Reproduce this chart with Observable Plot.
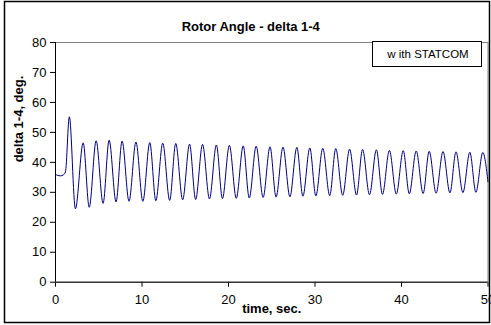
<!DOCTYPE html>
<html><head><meta charset="utf-8">
<script src="https://cdn.jsdelivr.net/npm/d3@7"></script>
<script src="https://cdn.jsdelivr.net/npm/@observablehq/plot@0.6"></script>
<style>body{margin:0;background:#fff} svg{display:block}</style>
</head><body><div id="chart"></div>
<script>
const timeSec = [0, 0.3, 0.6, 0.9, 1.15, 1.6, 2.3,
  3.2, 3.9, 4.7, 5.5, 6.2, 7.0, 7.7, 8.5, 9.3, 10.1, 10.9, 11.6, 12.4, 13.2, 13.9, 14.7,
  15.5, 16.2, 17.0, 17.8, 18.6, 19.3, 20.1, 20.9, 21.7, 22.4, 23.2, 24.0, 24.8, 25.5,
  26.3, 27.1, 27.9, 28.6, 29.4, 30.1, 30.9, 31.7, 32.4, 33.2, 34.0, 34.8, 35.5, 36.3,
  37.1, 37.8, 38.6, 39.4, 40.2, 40.9, 41.7, 42.5, 43.2, 44.0, 44.8, 45.6, 46.3, 47.1,
  47.9, 48.6, 49.4, 50.0];
const delta14 = [36.0, 35.6, 35.5, 35.8, 36.8, 55.2, 24.5,
  46.5, 25.0, 47.2, 26.3, 47.4, 26.8, 47.1, 27.0, 46.8, 27.0, 46.6, 27.2, 46.4, 27.3, 46.3, 27.5,
  46.1, 27.6, 46.0, 27.8, 45.8, 27.9, 45.7, 28.0, 45.5, 28.1, 45.4, 28.3, 45.2, 28.4,
  45.1, 28.5, 45.0, 28.7, 44.8, 28.8, 44.7, 28.9, 44.6, 29.0, 44.4, 29.1, 44.3, 29.2,
  44.2, 29.3, 44.0, 29.4, 43.9, 29.5, 43.8, 29.6, 43.7, 29.7, 43.6, 29.8, 43.5, 29.9,
  43.4, 30.0, 43.3, 33.5];
const xTicks = [0, 10, 20, 30, 40, 50];
const yTicks = [0, 10, 20, 30, 40, 50, 60, 70, 80];
const chartTitle = "Rotor Angle - delta 1-4";
const xLabel = "time, sec.";
const yLabel = "delta 1-4, deg.";
const legendLabel = "w ith STATCOM";

const data = timeSec.map((t, i) => ({t, v: delta14[i]}));
const font = "'Liberation Sans', Arial, sans-serif";

const chart = Plot.plot({
  width: 491, height: 325,
  marginLeft: 55, marginRight: 3.5, marginTop: 42, marginBottom: 43.3,
  style: {fontFamily: font, fontSize: "13px", color: "#000", background: "#fff", overflow: "visible"},
  x: {domain: [0, 50], ticks: xTicks, tickSize: 5, tickPadding: 8, label: null},
  y: {domain: [0, 80], ticks: yTicks, tickSize: 5, tickPadding: 4, label: null},
  marks: [
    Plot.frame({stroke: "#808080"}),
    Plot.ruleX([0], {stroke: "#000"}),
    Plot.ruleY([0], {stroke: "#000"}),
    Plot.line(data, {x: "t", y: "v", stroke: "#000080", strokeWidth: 1, curve: "monotone-x"}),
    Plot.text([chartTitle], {text: d => d, frameAnchor: "top", dy: -21, dx: -21, fontWeight: "bold", fontSize: 13}),
    Plot.text([xLabel], {text: d => d, frameAnchor: "bottom", dy: 31, fontWeight: "bold", fontSize: 13}),
    Plot.text([yLabel], {text: d => d, frameAnchor: "left", dx: -37, rotate: -90, fontWeight: "bold", fontSize: 13})
  ]
});

const svg = d3.select(chart);
svg.append("rect").attr("x", 4.5).attr("y", 1.5).attr("width", 485).attr("height", 321)
  .attr("fill", "none").attr("stroke", "#000").attr("stroke-width", 1.5);
svg.append("rect").attr("x", 372.5).attr("y", 41.5).attr("width", 109).attr("height", 25)
  .attr("fill", "#fff").attr("stroke", "#000").attr("stroke-width", 1);
svg.append("text").attr("x", 428).attr("y", 54).attr("text-anchor", "middle")
  .attr("dominant-baseline", "central").attr("font-family", font).attr("font-size", "11.5px")
  .text(legendLabel);

document.getElementById("chart").appendChild(chart);
</script>
</body></html>
